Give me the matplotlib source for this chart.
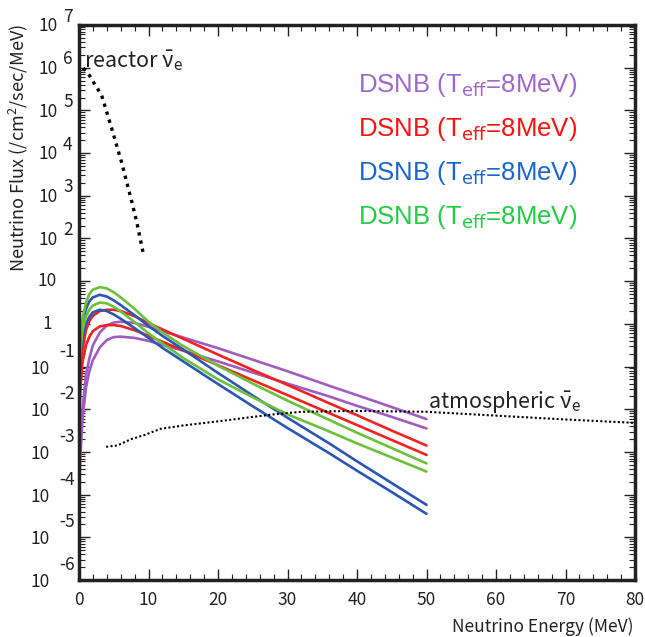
import matplotlib
matplotlib.use('Agg')
import matplotlib.pyplot as plt
import numpy as np

plt.rcParams['font.family'] = ['Noto Sans CJK JP', 'DejaVu Sans']
plt.rcParams['mathtext.fontset'] = 'custom'
plt.rcParams['mathtext.rm'] = 'Noto Sans CJK JP'
plt.rcParams['mathtext.it'] = 'Noto Sans CJK JP'

# ---- data (log10 of flux) ----
E_dsnb = [0.05, 0.2, 0.5, 1, 1.5, 2, 3, 4, 5, 6, 8, 10, 12, 15, 20, 25, 30, 36, 40, 45, 50]

purple_hi = [-3.0, -2.6, -2.0, -1.2, -0.8, -0.5, -0.2, -0.04, 0.03, 0.05, 0.02, -0.07, -0.17, -0.32, -0.57, -0.84, -1.11, -1.45, -1.67, -1.95, -2.23]
purple_lo = [-3.7, -3.1, -2.25, -1.5, -1.1, -0.85, -0.55, -0.38, -0.31, -0.30, -0.33, -0.40, -0.49, -0.63, -0.88, -1.14, -1.40, -1.70, -1.92, -2.18, -2.45]
red_hi = [-2.0, -1.3, -0.6, -0.15, 0.07, 0.19, 0.30, 0.33, 0.33, 0.30, 0.18, 0.02, -0.13, -0.35, -0.72, -1.08, -1.43, -1.86, -2.14, -2.50, -2.85]
red_lo = [-2.1, -1.5, -0.9, -0.5, -0.3, -0.17, -0.06, -0.03, -0.03, -0.05, -0.15, -0.28, -0.42, -0.62, -0.97, -1.32, -1.67, -2.09, -2.37, -2.72, -3.07]
blue_hi = [-1.1, -0.5, 0.0, 0.35, 0.53, 0.62, 0.68, 0.64, 0.55, 0.44, 0.20, -0.05, -0.28, -0.60, -1.15, -1.68, -2.20, -2.80, -3.22, -3.73, -4.24]
blue_lo = [-1.2, -0.7, -0.3, 0.0, 0.17, 0.27, 0.33, 0.30, 0.22, 0.12, -0.10, -0.33, -0.56, -0.88, -1.41, -1.93, -2.44, -3.03, -3.44, -3.94, -4.45]
green_hi = [-1.0, -0.4, 0.12, 0.5, 0.7, 0.8, 0.86, 0.83, 0.74, 0.62, 0.35, 0.05, -0.20, -0.52, -0.98, -1.40, -1.80, -2.25, -2.55, -2.91, -3.27]
green_lo = [-1.1, -0.6, -0.15, 0.17, 0.34, 0.43, 0.50, 0.48, 0.40, 0.29, 0.04, -0.22, -0.46, -0.80, -1.30, -1.72, -2.12, -2.52, -2.80, -3.13, -3.46]

E_reactor = [0.6, 1.5, 2.3, 3.25, 3.97, 4.7, 5.4, 6.1, 6.85, 7.6, 8.3, 9.25]
reactor = [5.99, 5.82, 5.6, 5.36, 4.97, 4.58, 4.19, 3.80, 3.33, 2.86, 2.39, 1.65]

E_atm = [3.9, 5.5, 7.5, 9.5, 11.7, 15, 20.7, 25, 28, 32, 40, 50, 60, 70, 80]
atm = [-2.88, -2.85, -2.7, -2.6, -2.46, -2.38, -2.27, -2.18, -2.12, -2.06, -2.04, -2.06, -2.15, -2.24, -2.32]

labels = ['DSNB (T$_{\\rm eff}$=8MeV)'] * 4
label_colors = ['#a066cc', '#ff1111', '#1a66cc', '#22cc44']
line_colors = ['#a05cbf', '#f02222', '#2a56b4', '#6cc03c']

fig = plt.figure(figsize=(6.45, 6.37), dpi=100)
ax = fig.add_axes([79/645, 1-580/637, 556/645, 555/637])

curves = [(purple_hi, 0), (purple_lo, 0), (red_hi, 1), (red_lo, 1),
          (blue_hi, 2), (blue_lo, 2), (green_hi, 3), (green_lo, 3)]
for vals, ci in curves:
    ax.plot(E_dsnb, 10**np.array(vals), color=line_colors[ci], lw=1.9, solid_capstyle='round')

ax.plot(E_reactor, 10**np.array(reactor), color='black', lw=2.4, linestyle=(0, (1, 1.5)))
ax.plot(E_atm, 10**np.array(atm), color='black', lw=1.5, linestyle=(0, (1, 1.1)))

ax.set_yscale('log')
ax.set_xlim(0, 80)
ax.set_ylim(1e-6, 1e7)

ax.set_xticks(np.arange(0, 81, 10))
ax.set_xticks(np.arange(0, 81, 2), minor=True)
ax.set_yticks([10.0**k for k in range(-6, 8)])
ax.yaxis.set_minor_locator(matplotlib.ticker.LogLocator(base=10, subs=np.arange(2, 10), numticks=30))
ax.yaxis.set_minor_formatter(matplotlib.ticker.NullFormatter())
ax.set_yticklabels([])
ax.tick_params(which='both', direction='in', top=True, right=True, color='#222222')
ax.tick_params(which='major', length=8, width=1.0)
ax.tick_params(which='minor', length=4, width=0.8)
ax.tick_params(axis='x', labelsize=12.5, pad=8, labelcolor='#222222')
for s in ax.spines.values():
    s.set_linewidth(2.5)
    s.set_color('#222222')

# ROOT-like y tick labels
for k in range(-6, 8):
    v = 10.0**k
    kw = dict(xycoords=('axes fraction', 'data'), textcoords='offset points',
              fontsize=12.5, color='#222222', va='center')
    if k == 0:
        ax.annotate('1', (0, v), xytext=(-19, 0), ha='right', **kw)
    elif k == 1:
        ax.annotate('10', (0, v), xytext=(-16, 0), ha='right', **kw)
    elif k > 1:
        ax.annotate('10', (0, v), xytext=(-15, -1), ha='right', **kw)
        ax.annotate(str(k), (0, v), xytext=(-11.5, 6), ha='left', **kw)
    else:
        ax.annotate('10', (0, v), xytext=(-21, -1.5), ha='right', **kw)
        ax.annotate(str(k), (0, v), xytext=(-14.4, 10.8), ha='left', **kw)

fig.text(18/645, 1-148/637, 'Neutrino Flux (/cm$^2$/sec/MeV)', rotation=90,
         ha='center', va='center', fontsize=13, color='#222222')
fig.text(633/645, 1-627/637, 'Neutrino Energy (MeV)', ha='right', va='center',
         fontsize=12.5, color='#222222')

ax.text(0.7, 1.5e6, 'reactor $\\bar{\\nu}_{\\rm e}$', fontsize=15.5, color='#222222',
        ha='left', va='center')
ax.text(50.2, 1.4e-2, 'atmospheric $\\bar{\\nu}_{\\rm e}$', fontsize=15.5, color='#222222',
        ha='left', va='center')

for i, (lab, c) in enumerate(zip(labels, label_colors)):
    fig.text(358/645, 1-(85+i*44)/637, lab, color=c, fontsize=18.5,
             family=['Liberation Sans', 'DejaVu Sans'], ha='left', va='center',
             math_fontfamily='dejavusans')

fig.savefig('out.png', dpi=100)
